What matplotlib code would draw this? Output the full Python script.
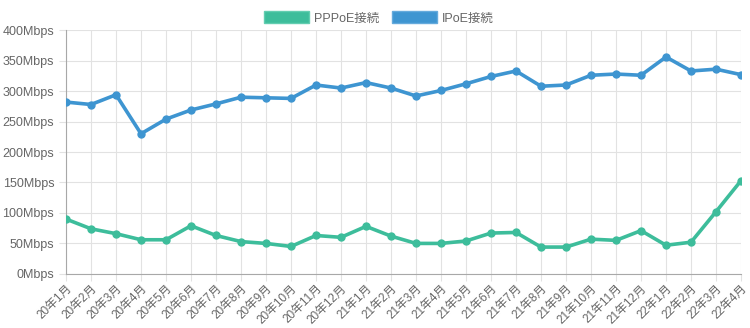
import matplotlib
matplotlib.use("Agg")
import matplotlib.pyplot as plt
from matplotlib.patches import Patch
from matplotlib.ticker import FuncFormatter

plt.rcParams['font.family'] = ['Liberation Sans', 'Noto Sans CJK JP', 'DejaVu Sans']

# data (Mbps)
months = ['20年1月', '20年2月', '20年3月', '20年4月', '20年5月', '20年6月', '20年7月',
          '20年8月', '20年9月', '20年10月', '20年11月', '20年12月', '21年1月', '21年2月',
          '21年3月', '21年4月', '21年5月', '21年6月', '21年7月', '21年8月', '21年9月',
          '21年10月', '21年11月', '21年12月', '22年1月', '22年2月', '22年3月', '22年4月']
pppoe = [90, 74, 66, 56, 56, 79, 63, 53, 50, 45, 63, 60, 78, 62,
         50, 50, 54, 67, 68, 44, 44, 57, 55, 71, 47, 52, 102, 153]
ipoe = [282, 278, 294, 230, 254, 269, 279, 290, 289, 288, 310, 305, 314, 305,
        292, 301, 312, 324, 333, 308, 310, 326, 328, 326, 356, 333, 336, 327]

green = '#3dbd9b'
blue = '#3e95d1'

fig = plt.figure(figsize=(7.5, 3.28), dpi=100)
ax = fig.add_axes([0.088, 0.165, 0.9, 0.743])

x = range(len(months))
ax.plot(x, pppoe, color=green, lw=2.6, marker='o', ms=5, zorder=3)
ax.plot(x, ipoe, color=blue, lw=2.6, marker='o', ms=5, zorder=3)

ax.set_xlim(0, len(months) - 1)
ax.set_ylim(0, 400)
ax.set_yticks(range(0, 401, 50))
ax.yaxis.set_major_formatter(FuncFormatter(lambda v, p: '%dMbps' % v))
ax.set_xticks(list(x))
ax.set_xticklabels(months, rotation=45, ha='right', rotation_mode='anchor')

ax.grid(True, color='#e2e2e2', lw=0.8)
ax.set_axisbelow(True)
for s in ['top', 'right']:
    ax.spines[s].set_visible(False)
for s in ['left', 'bottom']:
    ax.spines[s].set_color('#a8a8a8')
ax.tick_params(colors='#e2e2e2', labelcolor='#666666', labelsize=9, length=5, width=0.8)
ax.tick_params(axis='x', labelsize=8.5, pad=1)

handles = [Patch(facecolor=green, edgecolor='#62cdb0', label='PPPoE接続'),
           Patch(facecolor=blue, edgecolor='#65aadc', label='IPoE接続')]
fig.legend(handles=handles, loc='upper center', bbox_to_anchor=(0.505, 1.0), ncol=2,
           frameon=False, fontsize=9, handlelength=3.6, handleheight=1.1,
           handletextpad=0.4, columnspacing=1.0, labelcolor='#666666')

fig.savefig('out.png', dpi=100)
